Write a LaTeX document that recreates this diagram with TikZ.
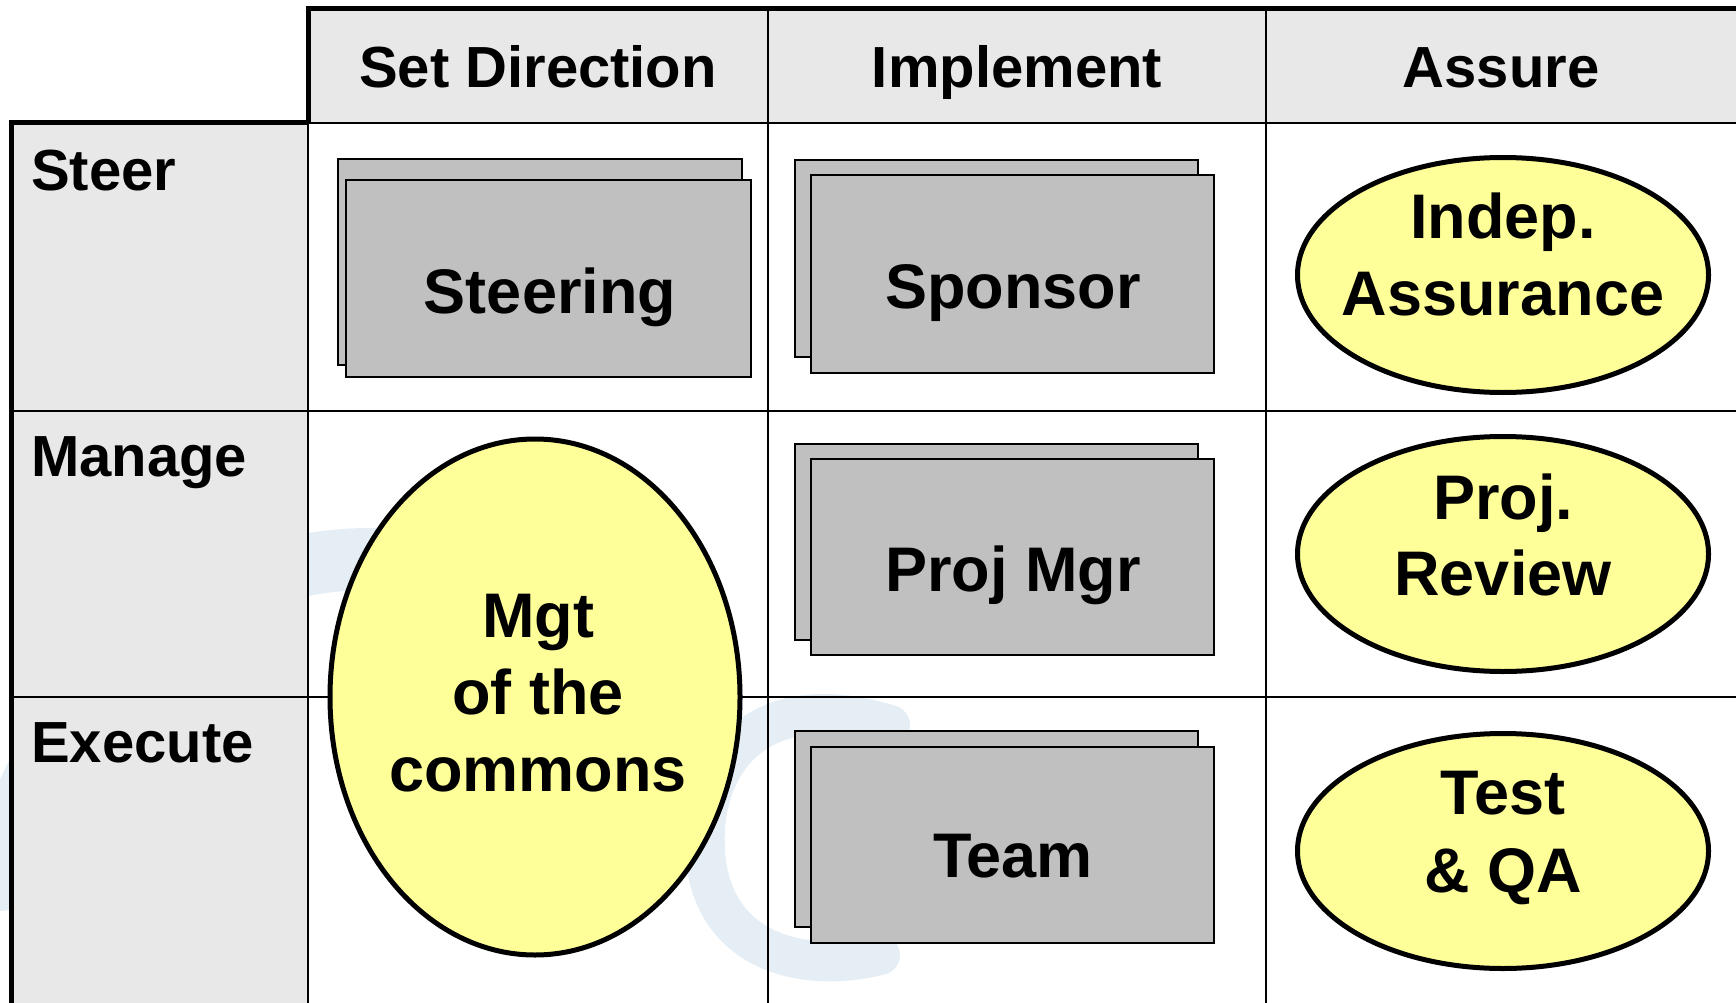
\documentclass[tikz,border=0pt]{standalone}
\usepackage{fontspec}
\setmainfont{Liberation Sans}
\definecolor{hdrgray}{HTML}{E8E8E8}
\definecolor{cardgray}{HTML}{C0C0C0}
\definecolor{ellyellow}{HTML}{FFFF99}
\definecolor{wmblue}{HTML}{E5EEF5}
\begin{document}
\begin{tikzpicture}[x=1pt,y=-1pt,
  thinline/.style={line width=2pt},
  thickline/.style={line width=5pt},
  hdrtxt/.style={font=\fontsize{58}{60}\selectfont\bfseries, anchor=base, inner sep=0},
  rowtxt/.style={font=\fontsize{58}{60}\selectfont\bfseries, anchor=base west, inner sep=0},
  bodytxt/.style={font=\fontsize{63}{77}\selectfont\bfseries, anchor=base, inner sep=0},
  card/.style={draw, line width=2pt, fill=cardgray, inner sep=0, minimum width=404pt},
  ell/.style={draw, ellipse, line width=5pt, fill=ellyellow, inner sep=0},
  wm/.style={draw=wmblue, line cap=round}]
\usetikzlibrary{shapes.geometric}
\useasboundingbox (0,0) rectangle (1736,1003);
% faint watermark
\coordinate (w1) at (400,560);
\coordinate (w2) at (0,880);
\coordinate (w3) at (890,725);
\coordinate (w4) at (705,850);
\coordinate (w5) at (880,955);
\draw[wm, line width=62pt] (w1) .. controls (200,545) and (40,690) .. (w2);
\draw[wm, line width=40pt] (w3) .. controls (760,685) and (700,760) .. (w4)
  .. controls (710,950) and (800,975) .. (w5);
% fills
\fill[hdrgray] (308,9) rectangle (1736,123);
\fill[hdrgray] (11,123) rectangle (308,1003);
% grid
\coordinate (tl) at (308,9);
\coordinate (tr) at (1736,9);
\coordinate (ml) at (11,123);
\coordinate (mc) at (308,123);
\coordinate (mr) at (1736,123);
\coordinate (bl) at (11,1003);
\draw[thinline] (mc) -- (mr);
\draw[thinline] (308,123) -- (308,1003);
\draw[thinline] (768,9) -- (768,1003);
\draw[thinline] (1266,9) -- (1266,1003);
\draw[thinline] (11,411) -- (1736,411);
\draw[thinline] (11,697) -- (1736,697);
\draw[thickline] (tr) -- (tl) -- (mc);
\draw[thickline] (mc) -- (ml) -- (bl);
% headers
\node[hdrtxt] (hsd) at (538,88) {Set Direction};
\node[hdrtxt] (him) at (1017,88) {Implement};
\node[hdrtxt] (has) at (1501,88) {Assure};
\node[rowtxt] (rst) at (31,190) {Steer};
\node[rowtxt] (rma) at (31,476) {Manage};
\node[rowtxt] (rex) at (31,762) {Execute};
% cards
\node[card, minimum height=206pt] (stb) at (540,262) {};
\node[card, minimum height=197pt, minimum width=405pt] (stf) at (548.5,278.5) {};
\node[bodytxt] (stt) at (550,313) {Steering};
\node[card, minimum height=197pt, minimum width=403pt] (spb) at (996.5,258.5) {};
\node[card, minimum height=198pt, minimum width=403pt] (spf) at (1012.5,274) {};
\node[bodytxt] (spt) at (1013,308) {Sponsor};
\node[card, minimum height=196pt, minimum width=403pt] (pmb) at (996.5,542) {};
\node[card, minimum height=196pt, minimum width=403pt] (pmf) at (1012.5,557) {};
\node[bodytxt] (pmt) at (1013,591) {Proj Mgr};
\node[card, minimum height=196pt, minimum width=403pt] (tmb) at (996.5,829) {};
\node[card, minimum height=196pt, minimum width=403pt] (tmf) at (1012.5,845) {};
\node[bodytxt] (tmt) at (1013,877) {Team};
% ellipses
\node[ell, minimum width=411pt, minimum height=235pt] (ia) at (1503,275) {};
\node[bodytxt] (ia1) at (1503,238) {Indep.};
\node[bodytxt] (ia2) at (1503,315) {Assurance};
\node[ell, minimum width=411pt, minimum height=235pt] (pr) at (1503,554) {};
\node[bodytxt] (pr1) at (1503,519) {Proj.};
\node[bodytxt] (pr2) at (1503,595) {Review};
\node[ell, minimum width=411pt, minimum height=235pt] (tq) at (1503,851) {};
\node[bodytxt] (tq1) at (1503,814) {Test};
\node[bodytxt] (tq2) at (1503,892) {\& QA};
\node[ell, minimum width=410pt, minimum height=516pt] (mg) at (535,697) {};
\node[bodytxt] (mg1) at (538,637) {Mgt};
\node[bodytxt] (mg2) at (538,714) {of the};
\node[bodytxt] (mg3) at (538,791) {commons};
\end{tikzpicture}
\end{document}
